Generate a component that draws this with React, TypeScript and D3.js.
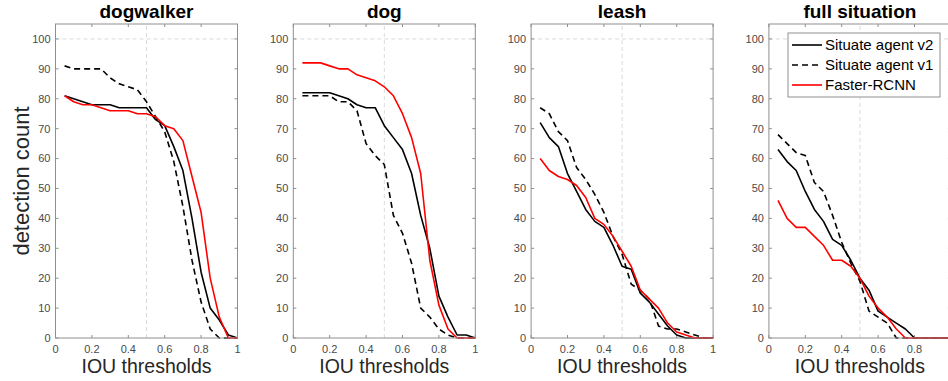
import React from "react";
import * as d3 from "d3";

// IOU thresholds at which detections were counted
const thresholds = [0.05, 0.1, 0.15, 0.2, 0.25, 0.3, 0.35, 0.4, 0.45, 0.5, 0.55, 0.6, 0.65, 0.7, 0.75, 0.8, 0.85, 0.9, 0.95, 1.0];

const panelTitles = ["dogwalker", "dog", "leash", "full situation"];

const seriesNames = ["Situate agent v2", "Situate agent v1", "Faster-RCNN"];

// Situate agent v2, one row per panel
const agentV2 = [
  [81, 80, 79, 78, 78, 78, 77, 77, 77, 77, 73, 71, 64, 56, 40, 22, 10, 6, 1, 0],
  [82, 82, 82, 82, 81, 80, 78, 77, 77, 71, 67, 63, 55, 41, 30, 14, 7, 1, 1, 0],
  [72, 67, 64, 55, 49, 43, 39, 37, 31, 24, 23, 15, 12, 8, 4, 1, 0, 0, 0, 0],
  [63, 59, 56, 49, 43, 39, 33, 31, 26, 20, 16, 9, 7, 5, 3, 0, 0, 0, 0, 0],
];

// Situate agent v1
const agentV1 = [
  [91, 90, 90, 90, 90, 87, 85, 84, 83, 79, 74, 69, 59, 44, 26, 12, 3, 0, 0, 0],
  [81, 81, 81, 81, 79, 79, 76, 65, 61, 58, 41, 35, 25, 10, 7, 3, 1, 0, 0, 0],
  [77, 75, 69, 66, 57, 53, 48, 42, 34, 28, 18, 16, 13, 4, 3, 3, 2, 1, 0, 0],
  [68, 65, 62, 61, 52, 49, 41, 32, 25, 19, 9, 7, 5, 0, 0, 0, 0, 0, 0, 0],
];

// Faster-RCNN baseline
const fasterRcnn = [
  [81, 79, 78, 78, 77, 76, 76, 76, 75, 75, 74, 71, 70, 66, 54, 42, 20, 7, 0, 0],
  [92, 92, 92, 91, 90, 90, 88, 87, 86, 84, 81, 75, 67, 55, 26, 11, 3, 0, 0, 0],
  [60, 56, 54, 53, 51, 47, 40, 38, 34, 29, 24, 16, 13, 10, 5, 2, 1, 0, 0, 0],
  [46, 40, 37, 37, 34, 31, 26, 26, 24, 20, 14, 10, 7, 3, 0, 0, 0, 0, 0, 0],
];

const xTicks = [0, 0.2, 0.4, 0.6, 0.8, 1];
const yTicks = [0, 10, 20, 30, 40, 50, 60, 70, 80, 90, 100];

const FONT = "'Liberation Sans', Arial, Helvetica, sans-serif";
const WIDTH = 948;
const HEIGHT = 381;
const PANEL_LEFT = 55.5;
const PANEL_STEP = 237.8;
const PANEL_W = 182;
const TOP = 24;
const BOTTOM = 338;
const AXIS_COLOR = "#8f8f8f";
const TICK_TEXT = "#4a4a4a";

const styles = [
  { color: "#000", dash: undefined as string | undefined },
  { color: "#000", dash: "6,4" },
  { color: "#ff0000", dash: undefined as string | undefined },
];

function Panel({ index }: { index: number }) {
  const x0 = PANEL_LEFT + index * PANEL_STEP;
  const x = d3.scaleLinear().domain([0, 1]).range([x0, x0 + PANEL_W]);
  const y = d3.scaleLinear().domain([0, 105]).range([BOTTOM, TOP]);
  const line = d3
    .line<number>()
    .x((_, i) => x(thresholds[i]))
    .y((v) => y(v));
  const series = [agentV2[index], agentV1[index], fasterRcnn[index]];
  const tl = 3;
  return (
    <g>
      <rect x={x(0)} y={y(105)} width={PANEL_W} height={y(0) - y(105)} fill="#fff" />
      {/* reference lines */}
      <line x1={x(0)} x2={x(1)} y1={y(100)} y2={y(100)} stroke="#d9d9d9" strokeDasharray="4,3" />
      <line x1={x(0.5)} x2={x(0.5)} y1={y(0)} y2={y(105)} stroke="#d9d9d9" strokeDasharray="4,3" />
      {/* tick marks on all four sides */}
      {yTicks.map((t) => (
        <g key={"y" + t}>
          <line x1={x(0)} x2={x(0) + tl} y1={y(t)} y2={y(t)} stroke={AXIS_COLOR} />
          <line x1={x(1)} x2={x(1) - tl} y1={y(t)} y2={y(t)} stroke={AXIS_COLOR} />
          <text x={x(0) - 5} y={y(t)} dy="0.35em" textAnchor="end" fontSize={11} fill={TICK_TEXT} fontFamily={FONT}>
            {t}
          </text>
        </g>
      ))}
      {xTicks.map((t) => (
        <g key={"x" + t}>
          <line x1={x(t)} x2={x(t)} y1={y(0)} y2={y(0) - tl} stroke={AXIS_COLOR} />
          <line x1={x(t)} x2={x(t)} y1={y(105)} y2={y(105) + tl} stroke={AXIS_COLOR} />
          {x(t) + 3 < WIDTH && (
            <text x={x(t)} y={y(0) + 15} textAnchor="middle" fontSize={11} fill={TICK_TEXT} fontFamily={FONT}>
              {String(t)}
            </text>
          )}
        </g>
      ))}
      {series.map((s, k) => (
        <path
          key={k}
          d={line(s) || ""}
          fill="none"
          stroke={styles[k].color}
          strokeWidth={1.6}
          strokeDasharray={styles[k].dash}
          strokeLinejoin="round"
        />
      ))}
      <rect x={x(0)} y={y(105)} width={PANEL_W} height={y(0) - y(105)} fill="none" stroke={AXIS_COLOR} />
      <text x={x(0.5)} y={18} textAnchor="middle" fontSize={19} fontWeight="bold" fontFamily={FONT} fill="#000">
        {panelTitles[index]}
      </text>
      <text x={x(0.5)} y={373} textAnchor="middle" fontSize={19.5} fontFamily={FONT} fill="#262626">
        IOU thresholds
      </text>
    </g>
  );
}

function Legend() {
  const lx = 788;
  const ly = 33;
  const rows = [45, 65, 85];
  return (
    <g>
      <rect x={lx} y={ly} width={152} height={64} fill="#fff" stroke={AXIS_COLOR} />
      {seriesNames.map((name, k) => (
        <g key={name}>
          <line
            x1={792}
            x2={822}
            y1={rows[k]}
            y2={rows[k]}
            stroke={styles[k].color}
            strokeWidth={1.6}
            strokeDasharray={styles[k].dash}
          />
          <text x={825} y={rows[k]} dy="0.36em" fontSize={15} fontFamily={FONT} fill="#000">
            {name}
          </text>
        </g>
      ))}
    </g>
  );
}

export default function App() {
  return (
    <svg
      width={WIDTH}
      height={HEIGHT}
      style={{ position: "absolute", left: 0, top: 0, background: "#fff" }}
    >
      <rect width={WIDTH} height={HEIGHT} fill="#fff" />
      {panelTitles.map((_, i) => (
        <Panel key={i} index={i} />
      ))}
      <Legend />
      <text
        transform="translate(29,181) rotate(-90)"
        textAnchor="middle"
        fontSize={22}
        fontFamily={FONT}
        fill="#262626"
      >
        detection count
      </text>
    </svg>
  );
}
